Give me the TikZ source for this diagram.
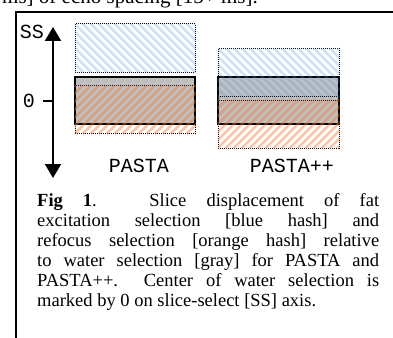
\documentclass[tikz,border=0pt]{standalone}
\usepackage{fontspec}
\setmainfont{Liberation Serif}
\setmonofont{Liberation Mono}
\usetikzlibrary{arrows.meta}
\usetikzlibrary{calc}
\definecolor{hashblue}{RGB}{80,150,230}
\definecolor{hashorange}{RGB}{240,120,50}

% hatch a selection node: #1 node, #2 colour, #3 opacity, #4 start anchor, #5 rise
\newcommand\selhash[5]{%
  \begin{scope}
    \clip (#1.south west) rectangle (#1.north east);
    \foreach \k in {-64,-56,...,128}
      \draw[#2, line width=2.8pt, opacity=#3] ($(#1.#4)+(\k,0)$) -- ++(60,#5);
  \end{scope}}

\tikzset{
  water/.style={draw, line width=1.2pt, fill=black!25, minimum width=120pt, minimum height=47pt, inner sep=0},
  sel/.style={draw, line width=1pt, dash pattern=on 1pt off 1pt, minimum width=120pt, minimum height=48pt, inner sep=0},
  lbl/.style={font=\fontsize{20}{20}\ttfamily, inner sep=0},
  axis/.style={line width=2pt, {Triangle[width=16pt,length=14pt]}-{Triangle[width=16pt,length=14pt]}}
}

\begin{document}
\begin{tikzpicture}[x=1pt, y=-1pt, node distance=50pt]
  \useasboundingbox (0,0) rectangle (393,337);
  \node[anchor=base west, inner sep=0, font=\fontsize{21}{24}\selectfont] (prev) at (2,4) {ms] of echo spacing [15+ ms].};
  \draw[line width=2pt] (400,12.5) -- (16,12.5) -- (16,345);

  \node[water] (Pw) at (135,100.5) {};
  \node[water, minimum width=121pt] (Qw) at (278.5,100.5) {};
  \node[sel, node distance=52.5pt, above of=Pw] (Pf) {};
  \node[sel, node distance=9pt, below of=Pw] (Pr) {};
  \node[sel, minimum width=121pt, node distance=28pt, above of=Qw] (Qf) {};
  \node[sel, minimum width=121pt, node distance=23.5pt, below of=Qw] (Qr) {};
  \selhash{Pf}{hashblue}{0.28}{north west}{60}
  \selhash{Qf}{hashblue}{0.28}{north west}{60}
  \selhash{Pr}{hashorange}{0.42}{south west}{-60}
  \selhash{Qr}{hashorange}{0.42}{south west}{-60}

  \coordinate (SStop) at (53,27);
  \coordinate (SSbot) at (53,178);
  \coordinate (zero) at (53,101);
  \coordinate (tick) at (43,101);
  \draw[axis] (SSbot) -- (SStop);
  \draw[line width=2pt] (zero) -- (tick);
  \node[lbl] (SS) at (32,32) {SS};
  \node[lbl] (z) at (29,101) {0};
  \node[lbl] (Plbl) at (139,165.5) {PASTA};
  \node[lbl] (Qlbl) at (292,165.5) {PASTA++};

  \node[anchor=base west, inner sep=0] (cap) at (37,206)
    {\parbox[t]{342pt}{\fontsize{18.5}{20}\selectfont
     \textbf{Fig 1}. Slice displacement of fat\linebreak
     excitation selection [blue hash] and\linebreak
     refocus selection [orange hash] relative\linebreak
     to water selection [gray] for PASTA and\linebreak
     PASTA++.\ \ Center of water selection is\linebreak
     marked by 0 on slice-select [SS] axis.\par}};
\end{tikzpicture}
\end{document}
